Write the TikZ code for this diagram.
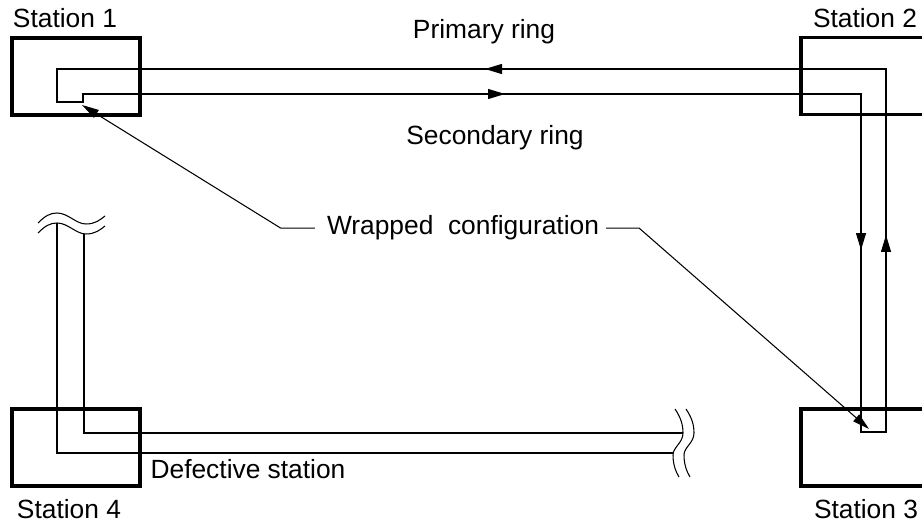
\documentclass[tikz,border=0pt]{standalone}
\usepackage{fontspec}
\setmainfont{Liberation Sans}
\usetikzlibrary{arrows.meta}

\begin{document}
\begin{tikzpicture}[x=0.02cm, y=-0.02cm,
	station/.style={draw, line width=0.07cm, minimum width=2.56cm, minimum height=1.54cm, inner sep=0pt},
	ring/.style={line width=0.6pt},
	flow/.style={line width=0.6pt, -{Triangle[length=0.34cm, width=0.2cm]}},
	callout/.style={line width=0.6pt, -{Triangle[length=0.34cm, width=0.18cm]}},
	every node/.style={font=\fontsize{15}{18}\selectfont}]
	\clip (0,0) rectangle (922,523);
	\begin{scope} [every node/.style={station}]
		\node (st1) at (76,76.5){};
		\node (st2) at (865,76){};
		\node (st3) at (865,447.5){};
		\node (st4) at (76,447.5){};
	\end{scope}
	\node[anchor=base] (lab1) at (65,28) {Station 1};
	\node[anchor=base] (lab2) at (865,28) {Station 2};
	\node[anchor=base] (lab3) at (866,518) {Station 3};
	\node[anchor=base] (lab4) at (69,518) {Station 4};
	\node[anchor=base] (prim) at (484,39) {Primary ring};
	\node[anchor=base] (sec) at (495,145) {Secondary ring};
	\node[anchor=base] (wrap) at (463,235) {Wrapped\ \ configuration};
	\node[anchor=base] (defect) at (248,478) {Defective station};
	% wrapped ring, closed at station 1 and station 3
	\draw[ring] (57,69) -- (886,69) -- (886,432) -- (861,432) -- (861,94)
		-- (83,94) -- (83,102) -- (57,102) -- cycle;
	% broken part at station 4
	\draw[ring] (57,223) -- (57,453) -- (673,453);
	\draw[ring] (84,234) -- (84,433) -- (683,433);
	% break marks
	\draw[ring] (38,223) .. controls (45,216) and (50,213) .. (57,213)
		.. controls (68,213) and (76,224) .. (86,224) .. controls (95,224) and (100,220) .. (105,216);
	\draw[ring] (38,233) .. controls (45,226) and (50,223) .. (57,223)
		.. controls (68,223) and (76,234) .. (86,234) .. controls (95,234) and (100,230) .. (105,226);
	\draw[ring] (675,409) .. controls (681,418) and (683,425) .. (683,433)
		.. controls (683,443) and (673,447) .. (673,455) .. controls (673,465) and (676,472) .. (679,477);
	\draw[ring] (686,409) .. controls (692,418) and (694,425) .. (694,433)
		.. controls (694,443) and (684,447) .. (684,455) .. controls (684,465) and (687,472) .. (690,477);
	% direction marks
	\draw[flow] (503,69) -- (485,69);
	\draw[flow] (487,94) -- (505,94);
	\draw[flow] (861,232) -- (861,250);
	\draw[flow] (886,253) -- (886,235);
	% callout
	\coordinate (tip1) at (82,105);
	\coordinate (tip3) at (869,429);
	\draw[callout] ([xshift=-0.12cm]wrap.west) -- ++(-34,0) -- (tip1);
	\draw[callout] ([xshift=0.02cm]wrap.east) -- ++(33,0) -- (tip3);
\end{tikzpicture}
\end{document}
